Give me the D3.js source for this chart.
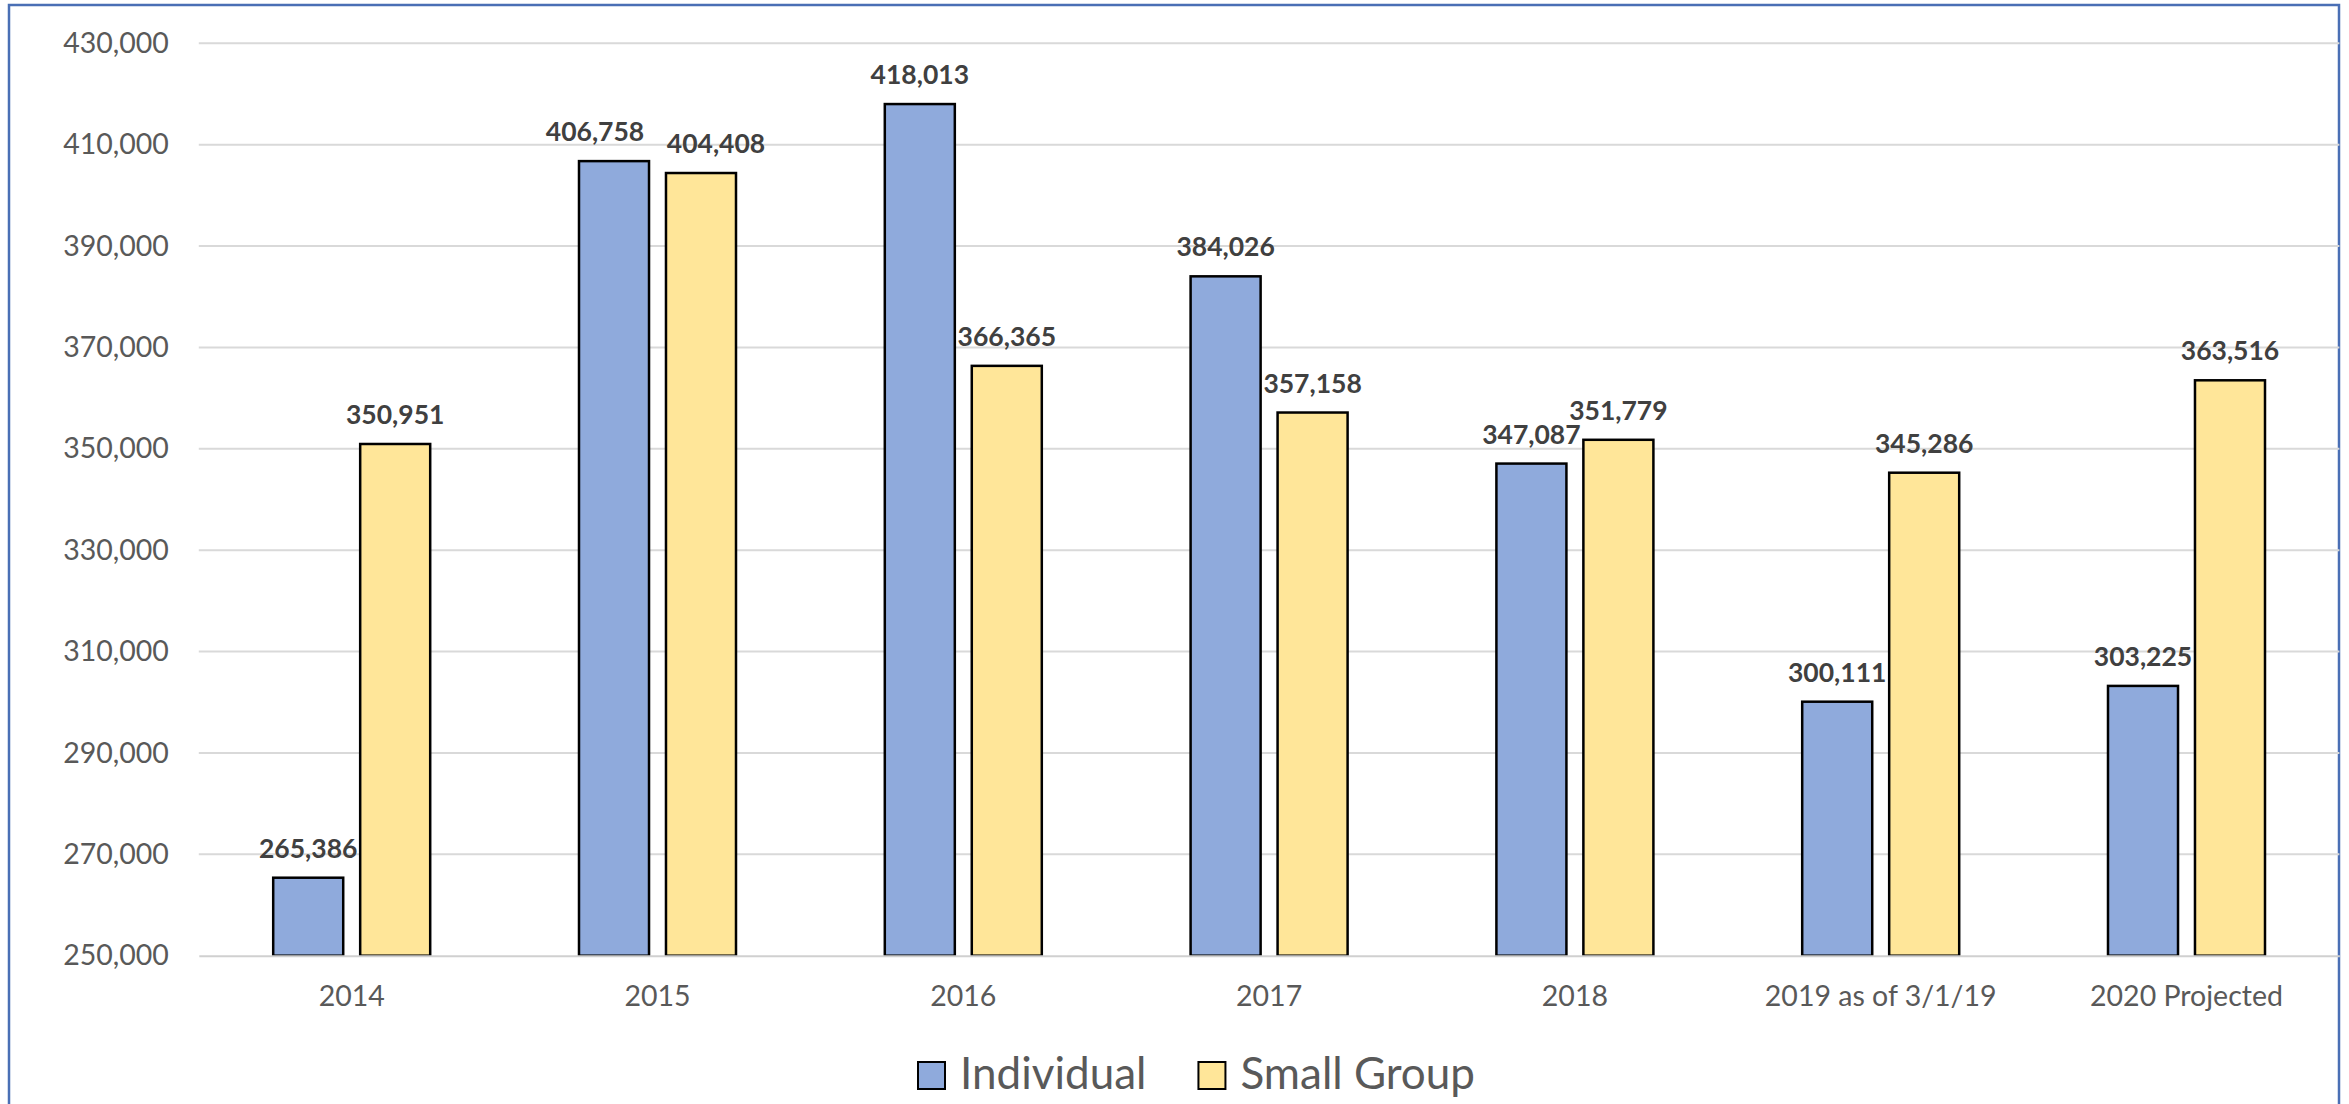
<!DOCTYPE html>
<html>
<head>
<meta charset="utf-8">
<script src="https://cdn.jsdelivr.net/npm/d3@7"></script>
<style>
  html, body { margin: 0; padding: 0; background: #ffffff; }
  svg { display: block; }
  text { font-family: Lato, "Open Sans", sans-serif; }
</style>
</head>
<body>
<svg id="chart" width="2349" height="1104"></svg>
<script>
// Enrollment by market segment
const categories = ["2014", "2015", "2016", "2017", "2018", "2019 as of 3/1/19", "2020 Projected"];
const seriesNames = ["Individual", "Small Group"];
const individual = [265386, 406758, 418013, 384026, 347087, 300111, 303225];
const smallGroup = [350951, 404408, 366365, 357158, 351779, 345286, 363516];
const yTicks = [250000, 270000, 290000, 310000, 330000, 350000, 370000, 390000, 410000, 430000];

const colors = { "Individual": "#8faadc", "Small Group": "#ffe699" };

const svg = d3.select("#chart");

// plot area
const plotLeft = 198.8, plotRight = 2339.4, plotTop = 43.3, plotBottom = 955.7;

const y = d3.scaleLinear().domain([250000, 430000]).range([plotBottom, plotTop]);
const x0 = d3.scaleBand().domain(categories).range([plotLeft, plotRight])
  .paddingInner(0.4866).paddingOuter(0.2433);
const x1 = d3.scaleBand().domain(seriesNames).range([0, x0.bandwidth()])
  .paddingInner(0.195).paddingOuter(0);

// outer frame
svg.append("rect")
  .attr("x", 9).attr("y", 5).attr("width", 2330).attr("height", 1160)
  .attr("fill", "#ffffff").attr("stroke", "#4a6fb5").attr("stroke-width", 2.5);

// gridlines
svg.append("g").selectAll("line").data(yTicks.slice(1)).join("line")
  .attr("x1", plotLeft).attr("x2", plotRight)
  .attr("y1", d => y(d)).attr("y2", d => y(d))
  .attr("stroke", "#d9d9d9").attr("stroke-width", 2);

// y axis labels
const yAxis = svg.append("g").attr("transform", `translate(${plotLeft},0)`)
  .call(d3.axisLeft(y).tickValues(yTicks).tickSize(0).tickPadding(30).tickFormat(d3.format(",")));
yAxis.select(".domain").remove();
yAxis.selectAll("text")
  .attr("fill", "#595959").style("font-size", "28.5px").style("font-family", "Lato, sans-serif");

// rows of (category, series, value)
const rows = [];
categories.forEach((c, i) => {
  rows.push({ cat: c, series: "Individual", value: individual[i] });
  rows.push({ cat: c, series: "Small Group", value: smallGroup[i] });
});

// bars
svg.append("g").selectAll("rect").data(rows).join("rect")
  .attr("x", d => x0(d.cat) + x1(d.series))
  .attr("y", d => y(d.value))
  .attr("width", x1.bandwidth())
  .attr("height", d => y(250000) - y(d.value))
  .attr("fill", d => colors[d.series])
  .attr("stroke", "#000000").attr("stroke-width", 2.5);

// category axis
const xAxis = svg.append("g").attr("transform", `translate(0,${plotBottom})`)
  .call(d3.axisBottom(x0).tickSize(0).tickPadding(30));
xAxis.select(".domain")
  .attr("stroke", "#d0d0d0").attr("stroke-width", 2);
xAxis.selectAll("text")
  .attr("fill", "#595959").style("font-size", "28.5px").style("font-family", "Lato, sans-serif");

// value labels; the two 2015 labels are pushed apart so they do not collide
const labelNudge = { "2015|Individual": -19, "2015|Small Group": 15 };
svg.append("g").selectAll("text").data(rows).join("text")
  .attr("x", d => x0(d.cat) + x1(d.series) + x1.bandwidth() / 2 + (labelNudge[d.cat + "|" + d.series] || 0))
  .attr("y", d => y(d.value) - 20)
  .attr("text-anchor", "middle")
  .attr("fill", "#404040")
  .style("font-size", "26.5px").style("font-weight", "700")
  .text(d => d3.format(",")(d.value));

// legend
const legend = svg.append("g");
let lx = 918;
seriesNames.forEach(name => {
  const g = legend.append("g").attr("transform", `translate(${lx},0)`);
  g.append("rect").attr("x", 0).attr("y", 1062).attr("width", 27).attr("height", 27)
    .attr("fill", colors[name]).attr("stroke", "#000").attr("stroke-width", 2);
  const t = g.append("text").attr("x", 42).attr("y", 1089)
    .attr("fill", "#595959").style("font-size", "44px").text(name);
  lx += 42 + t.node().getComputedTextLength() + 52;
});
</script>
</body>
</html>
